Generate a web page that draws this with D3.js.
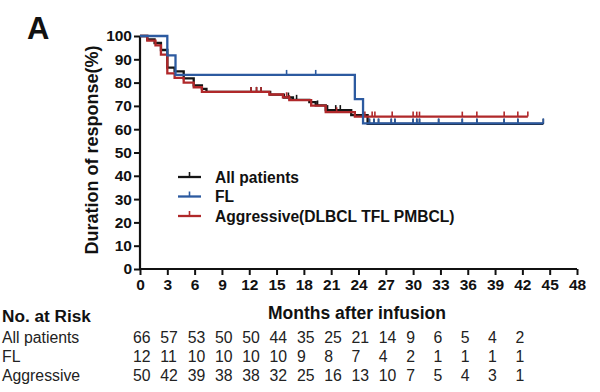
<!DOCTYPE html>
<html><head><meta charset="utf-8">
<script src="https://cdn.jsdelivr.net/npm/d3@7"></script>
<style>body{margin:0;background:#fff}svg{display:block;font-family:"Liberation Sans",Arial,sans-serif}</style>
</head><body><svg id="c" width="600" height="392"></svg>
<script>
const seriesNames = ["All patients","FL","Aggressive(DLBCL TFL PMBCL)"];
const seriesColors = ["#151515","#2c5aa0","#b0282a"];
// step points [month, percent]
const allSteps = [[0,100],[0.8,98.5],[1.6,97],[2.3,94],[3.0,86.4],[3.8,84.8],[4.8,81.8],[5.9,78.8],[6.8,77.3],[7.3,76],[14.3,74.8],[15.8,73.6],[16.8,72.6],[18.6,71.6],[19.3,70.2],[20.4,68.2],[23.2,66],[25.0,62.3],[44.3,62.3]];
const flSteps = [[0,100],[3.0,91.7],[3.9,83.3],[23.6,72.9],[24.5,62.5],[44.3,62.5]];
const aggSteps = [[0,100],[0.8,98],[1.7,96],[2.3,92],[3.0,84],[3.8,82],[4.8,80],[5.9,78],[6.8,76],[14.2,74.9],[15.7,73.7],[16.4,72.5],[18.8,70.1],[20.4,67.3],[23.6,65.4],[42.6,65.4]];
const allCensor = [12.2,12.8,13.3,16.3,17.2,19.5,20.6,21.5,22,25.2,25.7,26.2,27.6,28,30,30.4,30.7,32.8,35.4,37,40,41.5,44.3];
const flCensor = [16.1,19.3,25.2,25.7,26.2,27.6,28,30,30.4,30.7,32.8,35.4,37,40,41.5,44.3];
const aggCensor = [12.2,12.8,13.3,16.1,16.4,21.6,24.7,25.5,25.8,27.7,30,30.4,30.7,35.4,37,40,41.5,42.6];
const xTicks = d3.range(0,49,3);
const yTicks = d3.range(0,101,10);
const riskTimes = [0,3,6,9,12,15,18,21,24,27,30,33,36,39,42];
const riskLabels = ["All patients","FL","Aggressive"];
const riskAll = [66,57,53,50,50,44,35,25,21,14,9,6,5,4,2];
const riskFL = [12,11,10,10,10,10,9,8,7,4,2,1,1,1,1];
const riskAgg = [50,42,39,38,38,32,25,16,13,10,7,5,4,3,1];

const svg = d3.select("#c");
const x = d3.scaleLinear().domain([0,48]).range([140,577]);
const y = d3.scaleLinear().domain([0,100]).range([269,36]);

// panel label
svg.append("text").attr("x",27).attr("y",39).attr("font-size",31).attr("font-weight","bold").attr("fill","#111").text("A");

// axes
const xAxis = svg.append("g").attr("transform","translate(0,269)")
  .call(d3.axisBottom(x).tickValues(xTicks).tickSize(6).tickPadding(4));
const yAxis = svg.append("g").attr("transform","translate(140,0)")
  .call(d3.axisLeft(y).tickValues(yTicks).tickSize(6).tickPadding(2));
[xAxis,yAxis].forEach(g=>{
  g.select(".domain").attr("stroke","#111").attr("stroke-width",2.2);
  g.selectAll(".tick line").attr("stroke","#111").attr("stroke-width",2);
  g.selectAll(".tick text").attr("font-size",15.5).attr("font-weight","bold").attr("fill","#111")
   .attr("font-family","'Liberation Sans',Arial,sans-serif");
});
xAxis.select(".domain").attr("d","M140,0H577");
yAxis.select(".domain").attr("d","M0,269V36");

svg.append("text").attr("transform","translate(98,150) rotate(-90)").attr("text-anchor","middle")
  .attr("font-size",18).attr("font-weight","bold").attr("fill","#111").text("Duration of response(%)");

const line = d3.line().x(d=>x(d[0])).y(d=>y(d[1])).curve(d3.curveStepAfter);
function valAt(steps,t){let v=steps[0][1];for(const s of steps){if(s[0]<=t)v=s[1];}return v;}
const series = [[allSteps,allCensor],[flSteps,flCensor],[aggSteps,aggCensor]];
[0,2,1].forEach(i=>{
  const [steps,cens]=series[i];
  svg.append("path").datum(steps).attr("d",line).attr("fill","none")
    .attr("stroke",seriesColors[i]).attr("stroke-width",2.3);
  svg.append("g").selectAll("line").data(cens).join("line")
    .attr("x1",d=>x(d)).attr("x2",d=>x(d))
    .attr("y1",d=>y(valAt(steps,d))).attr("y2",d=>y(valAt(steps,d))-5)
    .attr("stroke",seriesColors[i]).attr("stroke-width",1.6);
});

// legend
const leg = svg.append("g");
seriesNames.forEach((n,i)=>{
  const ly = 177 + i*19.5;
  leg.append("line").attr("x1",178).attr("x2",201).attr("y1",ly).attr("y2",ly).attr("stroke",seriesColors[i]).attr("stroke-width",2.3);
  leg.append("line").attr("x1",189.5).attr("x2",189.5).attr("y1",ly).attr("y2",ly-5).attr("stroke",seriesColors[i]).attr("stroke-width",1.6);
  leg.append("text").attr("x",215).attr("y",ly+5.5).attr("font-size",15.6).attr("font-weight","bold").attr("fill","#111").text(n);
});

// risk table
svg.append("text").attr("x",2).attr("y",322).attr("font-size",17.2).attr("font-weight","bold").attr("fill","#111").text("No. at Risk");
svg.append("text").attr("x",357).attr("y",319).attr("text-anchor","middle").attr("font-size",17.5).attr("font-weight","bold").attr("fill","#111").text("Months after infusion");
const riskRows = [riskAll,riskFL,riskAgg];
riskRows.forEach((row,r)=>{
  const ry = 343 + r*19;
  svg.append("text").attr("x",2).attr("y",ry).attr("font-size",15.8).attr("fill","#222").text(riskLabels[r]);
  svg.append("g").selectAll("text").data(row).join("text")
    .attr("x",(d,i)=>x(riskTimes[i])-7).attr("y",ry).attr("font-size",15.8).attr("fill","#222").text(d=>d);
});
</script></body></html>
